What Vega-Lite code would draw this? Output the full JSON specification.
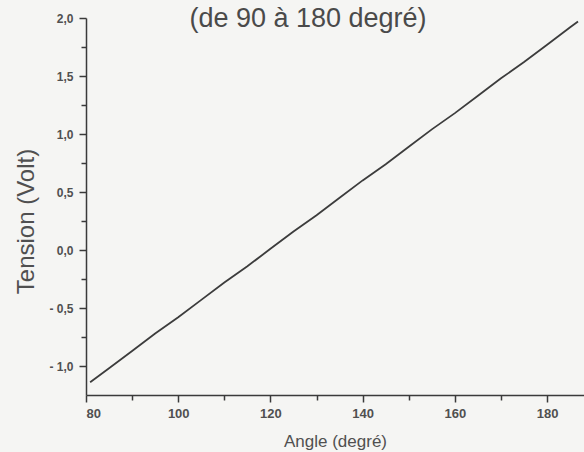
{
  "$schema": "https://vega.github.io/schema/vega-lite/v6.json",
  "width": 498,
  "height": 377,
  "autosize": {"type": "none"},
  "padding": {"left": 86, "top": 18, "right": 0, "bottom": 57},
  "background": "#f5f5f3",
  "title": {
    "text": "(de 90 à 180 degré)",
    "font": "Liberation Sans",
    "fontSize": 27,
    "fontWeight": "normal",
    "color": "#4a4a4a",
    "frame": "group",
    "anchor": "middle",
    "baseline": "alphabetic",
    "offset": 0,
    "dy": 42,
    "dx": -27
  },
  "config": {
    "view": {"stroke": null},
    "axis": {
      "labelFont": "Liberation Sans",
      "titleFont": "Liberation Sans",
      "labelColor": "#505050",
      "titleColor": "#505050",
      "domainColor": "#3a3a3a",
      "tickColor": "#3a3a3a",
      "domainWidth": 1.5,
      "tickWidth": 1.5,
      "grid": false,
      "labelFontWeight": "bold"
    }
  },
  "data": {
    "values": [
      {"angle": 80.9, "tension": -1.14},
      {"angle": 85, "tension": -1.02},
      {"angle": 90, "tension": -0.87},
      {"angle": 95, "tension": -0.72},
      {"angle": 100, "tension": -0.58},
      {"angle": 105, "tension": -0.43},
      {"angle": 110, "tension": -0.28},
      {"angle": 115, "tension": -0.14},
      {"angle": 120, "tension": 0.01},
      {"angle": 125, "tension": 0.16},
      {"angle": 130, "tension": 0.30},
      {"angle": 135, "tension": 0.45},
      {"angle": 140, "tension": 0.60},
      {"angle": 145, "tension": 0.74},
      {"angle": 150, "tension": 0.89},
      {"angle": 155, "tension": 1.04},
      {"angle": 160, "tension": 1.18},
      {"angle": 165, "tension": 1.33},
      {"angle": 170, "tension": 1.48},
      {"angle": 175, "tension": 1.62},
      {"angle": 180, "tension": 1.77},
      {"angle": 185, "tension": 1.92},
      {"angle": 186.7, "tension": 1.97}
    ]
  },
  "layer": [
    {
      "mark": {"type": "line", "color": "#3c3c3c", "strokeWidth": 1.8},
      "encoding": {
        "x": {
          "field": "angle", "type": "quantitative",
          "scale": {"domain": [80, 188], "nice": false, "zero": false},
          "axis": {
            "values": [80, 100, 120, 140, 160, 180],
            "title": "Angle (degré)",
            "titleFontSize": 17,
            "titleFontWeight": "normal",
            "titleBaseline": "alphabetic",
            "titleY": 51,
            "labelFontSize": 13,
            "tickSize": 7,
            "labelPadding": 5,
            "orient": "bottom"
          }
        },
        "y": {
          "field": "tension", "type": "quantitative",
          "scale": {"domain": [-1.25, 2.0], "nice": false, "zero": false},
          "axis": {
            "values": [-1.0, -0.5, 0.0, 0.5, 1.0, 1.5, 2.0],
            "labelExpr": "replace(replace(format(datum.value, '.1f'), '.', ','), '−', '- ')",
            "title": "Tension (Volt)",
            "titleFontSize": 24,
            "titleFontWeight": "normal",
            "titleAngle": -90,
            "titleAlign": "center",
            "titleBaseline": "alphabetic",
            "titleX": -53,
            "titleY": 203,
            "labelFontSize": 12,
            "tickSize": 7,
            "labelPadding": 6,
            "orient": "left"
          }
        }
      }
    },
    {
      "mark": {"type": "line", "opacity": 0},
      "encoding": {
        "x": {
          "field": "angle", "type": "quantitative",
          "scale": {"domain": [80, 188], "nice": false, "zero": false},
          "axis": {"values": [90, 110, 130, 150, 170], "labels": false, "title": null, "domain": false, "tickSize": 5, "orient": "bottom"}
        },
        "y": {
          "field": "tension", "type": "quantitative",
          "scale": {"domain": [-1.25, 2.0], "nice": false, "zero": false},
          "axis": {"values": [-0.75, -0.25, 0.25, 0.75, 1.25, 1.75], "labels": false, "title": null, "domain": false, "tickSize": 5, "orient": "left"}
        }
      }
    }
  ],
  "resolve": {"axis": {"x": "independent", "y": "independent"}}
}
